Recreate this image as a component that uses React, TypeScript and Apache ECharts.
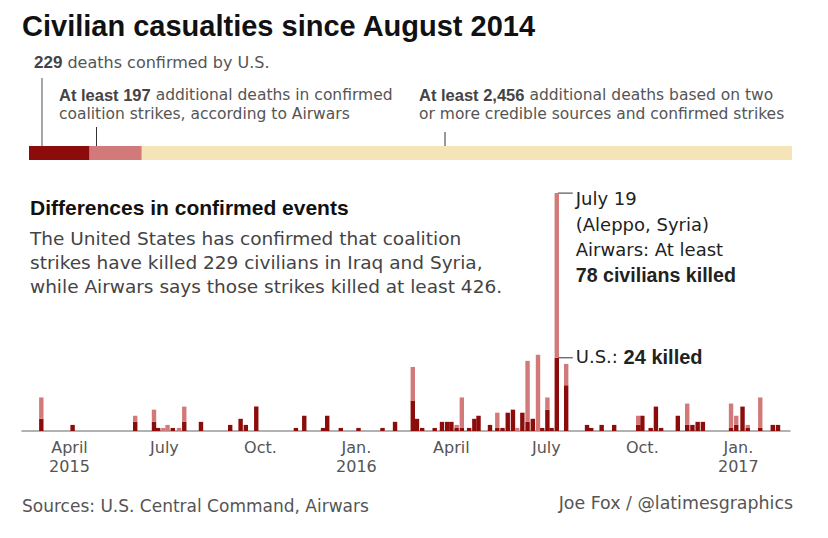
import React, { useEffect, useRef } from "react";
import * as echarts from "echarts";

// ---------- data ----------
const totalsNames = ["Confirmed by U.S.", "Additional (Airwars, confirmed strikes)", "Additional (credible sources)"];
const totalsValues = [229, 197, 2456];

const eventDates = [
  "2015-03-05", "2015-04-04", "2015-06-03", "2015-06-21", "2015-06-25", "2015-06-30", "2015-07-04", "2015-07-09",
  "2015-07-15", "2015-07-20", "2015-08-05", "2015-09-02", "2015-09-12", "2015-09-17", "2015-09-27", "2015-11-04",
  "2015-11-12", "2015-11-30", "2015-12-04", "2015-12-17", "2016-01-03", "2016-01-26", "2016-02-07", "2016-02-24",
  "2016-02-28", "2016-03-04", "2016-03-16", "2016-03-23", "2016-03-28", "2016-04-01", "2016-04-06", "2016-04-11",
  "2016-04-18", "2016-04-23", "2016-04-27", "2016-05-08", "2016-05-15", "2016-05-20", "2016-05-25", "2016-05-30",
  "2016-06-03", "2016-06-08", "2016-06-13", "2016-06-18", "2016-06-23", "2016-06-27", "2016-07-02", "2016-07-06",
  "2016-07-11", "2016-07-20", "2016-08-09", "2016-08-13", "2016-08-23", "2016-09-04", "2016-09-27", "2016-10-01",
  "2016-10-09", "2016-10-14", "2016-10-19", "2016-11-04", "2016-11-13", "2016-11-18", "2016-11-23", "2016-11-28",
  "2016-12-25", "2016-12-30", "2017-01-05", "2017-01-10", "2017-01-22", "2017-02-03", "2017-02-08",
];
const usKilled = [
  4, 2, 3, 3, 1, 0, 0, 1, 0, 3, 3, 2, 4, 2, 8, 1, 5, 1, 5, 1, 1, 1, 3, 10, 4, 1, 1, 3, 3, 3, 1, 1, 1, 4, 5, 2, 1, 1,
  6, 7, 0, 6, 3, 4, 0, 1, 7, 1, 24, 15, 2, 1, 2, 2, 2, 5, 1, 8, 1, 5, 2, 2, 3, 3, 1, 2, 8, 1, 1, 2, 2,
];
const airwarsKilled = [
  11, 2, 5, 7, 1, 1, 2, 1, 1, 8, 3, 2, 4, 2, 8, 1, 5, 1, 5, 1, 1, 1, 3, 21, 4, 1, 1, 3, 3, 3, 2, 11, 1, 4, 5, 2, 6, 1,
  6, 7, 1, 6, 23, 4, 25, 1, 11, 1, 78, 22, 2, 1, 2, 2, 5, 5, 1, 8, 1, 5, 9, 2, 3, 3, 9, 5, 8, 2, 11, 2, 2,
];

const axisStart = "2015-02-15";
const axisEnd = "2017-02-19";
const tickDates = ["2015-04-01", "2015-07-01", "2015-10-01", "2016-01-01", "2016-04-01", "2016-07-01", "2016-10-01", "2017-01-01"];
const tickLabels = ["April\n2015", "July", "Oct.", "Jan.\n2016", "April", "July", "Oct.", "Jan.\n2017"];

const peakIndex = 48; // July 19 event (Aleppo)

// ---------- style ----------
const DARK = "#8c0b0b";
const LIGHT = "#d27a7a";
const BEIGE = "#f6e4b9";
const BODY = "'DejaVu Sans', sans-serif";
const BOLD = "'Liberation Sans', Arial, sans-serif";

function buildDays(start: string, end: string): string[] {
  const out: string[] = [];
  const [sy, sm, sd] = start.split("-").map(Number);
  const [ey, em, ed] = end.split("-").map(Number);
  let t = Date.UTC(sy, sm - 1, sd);
  const te = Date.UTC(ey, em - 1, ed);
  while (t <= te) {
    out.push(new Date(t).toISOString().slice(0, 10));
    t += 86400000;
  }
  return out;
}

function txt(x: number, y: number, text: string, size: number, extra: any = {}) {
  const rich = extra.rich;
  return {
    type: "text",
    x,
    y,
    silent: true,
    style: {
      text,
      fontSize: size,
      fontFamily: extra.fontFamily || BODY,
      fontWeight: extra.fontWeight || "normal",
      fill: extra.fill || "#555",
      textAlign: extra.align || "left",
      align: extra.align || "left",
      textVerticalAlign: "middle",
      verticalAlign: "middle",
      ...(rich ? { rich } : {}),
    },
  };
}

export default function App() {
  const ref = useRef<HTMLDivElement>(null);
  useEffect(() => {
    document.body.style.margin = "0";
    const chart = echarts.init(ref.current!, null, { renderer: "svg" });
    const days = buildDays(axisStart, axisEnd);
    const usMap = new Map<string, number>();
    const exMap = new Map<string, number>();
    eventDates.forEach((d, i) => {
      usMap.set(d, usKilled[i]);
      exMap.set(d, airwarsKilled[i] - usKilled[i]);
    });
    const usData = days.map((d) => (usMap.has(d) ? usMap.get(d)! : null));
    const exData = days.map((d) => (exMap.has(d) ? exMap.get(d)! : null));
    const tickSet = new Set(tickDates);
    const total = totalsValues.reduce((a, b) => a + b, 0);

    const bodyRich = (size: number, color: string, bsize: number, bcolor: string) => ({
      r: { fontFamily: BODY, fontSize: size, fill: color, color },
      b: { fontFamily: BOLD, fontSize: bsize, fontWeight: "bold", fill: bcolor, color: bcolor },
    });

    const staticGraphics: any[] = [
      txt(22, 26, "Civilian casualties since August 2014", 29, { fontFamily: BOLD, fontWeight: "bold", fill: "#111" }),
      txt(34, 62.8, "{b|229}{r| deaths confirmed by U.S.}", 16, { rich: bodyRich(16, "#555", 17, "#444") }),
      txt(59, 95.2, "{b|At least 197}{r| additional deaths in confirmed}", 15.5, { rich: bodyRich(15.5, "#555", 16.5, "#444") }),
      txt(59, 113.6, "coalition strikes, according to Airwars", 15.5),
      txt(419, 95.2, "{b|At least 2,456}{r| additional deaths based on two}", 15.5, { rich: bodyRich(15.5, "#555", 16.5, "#444") }),
      txt(419, 113.6, "or more credible sources and confirmed strikes", 15.5),
      { type: "line", silent: true, shape: { x1: 42, y1: 78, x2: 42, y2: 146 }, style: { stroke: "#888", lineWidth: 1.5 } },
      { type: "line", silent: true, shape: { x1: 96.5, y1: 127, x2: 96.5, y2: 146 }, style: { stroke: "#333", lineWidth: 1 } },
      { type: "line", silent: true, shape: { x1: 445, y1: 132, x2: 445, y2: 146 }, style: { stroke: "#333", lineWidth: 1 } },
      txt(30, 207, "Differences in confirmed events", 21, { fontFamily: BOLD, fontWeight: "bold", fill: "#111" }),
      txt(30, 238, "The United States has confirmed that coalition", 18.5, { fill: "#444" }),
      txt(30, 262, "strikes have killed 229 civilians in Iraq and Syria,", 18.5, { fill: "#444" }),
      txt(30, 286, "while Airwars says those strikes killed at least 426.", 18.5, { fill: "#444" }),
      txt(22, 506, "Sources: U.S. Central Command, Airwars", 17),
      txt(793, 503, "Joe Fox / @latimesgraphics", 17.4, { align: "right" }),
    ];

    const option: any = {
      animation: false,
      backgroundColor: "#fff",
      grid: [
        { left: 29, top: 146, width: 763, height: 14 },
        { left: 22, top: 187, width: 768, height: 244 },
      ],
      xAxis: [
        { gridIndex: 0, type: "value", min: 0, max: total, show: false },
        {
          gridIndex: 1,
          type: "category",
          data: days,
          boundaryGap: true,
          axisLine: { lineStyle: { color: "#999", width: 1.5 } },
          axisTick: { show: false },
          splitLine: { show: false },
          axisLabel: {
            interval: (_i: number, v: string) => tickSet.has(v),
            formatter: (v: string) => {
              const k = tickDates.indexOf(v);
              return k >= 0 ? tickLabels[k] : "";
            },
            color: "#555",
            fontFamily: BODY,
            fontSize: 16,
            lineHeight: 19,
            margin: 7,
          },
        },
      ],
      yAxis: [
        { gridIndex: 0, type: "category", data: ["total"], show: false },
        { gridIndex: 1, type: "value", min: 0, max: 80, show: false },
      ],
      series: [
        ...totalsValues.map((v, i) => ({
          name: totalsNames[i],
          type: "bar",
          xAxisIndex: 0,
          yAxisIndex: 0,
          stack: "totals",
          barWidth: 14,
          data: [v],
          itemStyle: { color: [DARK, LIGHT, BEIGE][i] },
          silent: true,
        })),
        {
          name: "U.S.",
          type: "bar",
          xAxisIndex: 1,
          yAxisIndex: 1,
          stack: "events",
          barWidth: 4.4,
          data: usData,
          itemStyle: { color: DARK },
          silent: true,
        },
        {
          name: "Airwars additional",
          type: "bar",
          xAxisIndex: 1,
          yAxisIndex: 1,
          stack: "events",
          barWidth: 4.4,
          data: exData,
          itemStyle: { color: LIGHT },
          silent: true,
        },
      ],
      graphic: staticGraphics,
    };
    chart.setOption(option);

    // annotation anchored to the peak bar
    try {
      const d = eventDates[peakIndex];
      const top = chart.convertToPixel({ xAxisIndex: 1, yAxisIndex: 1 } as any, [d, airwarsKilled[peakIndex]]) as any;
      const us = chart.convertToPixel({ xAxisIndex: 1, yAxisIndex: 1 } as any, [d, usKilled[peakIndex]]) as any;
      const x0 = top[0] + 1;
      const x1 = x0 + 15;
      const tx = x1 + 3;
      const ann: any[] = [
        { type: "line", silent: true, shape: { x1: x0, y1: top[1], x2: x1, y2: top[1] }, style: { stroke: "#333", lineWidth: 1 } },
        { type: "line", silent: true, shape: { x1: x0, y1: us[1], x2: x1, y2: us[1] }, style: { stroke: "#333", lineWidth: 1 } },
        txt(tx, top[1] + 5.5, "July 19", 18, { fill: "#222" }),
        txt(tx, top[1] + 31, "(Aleppo, Syria)", 18, { fill: "#222" }),
        txt(tx, top[1] + 56.5, "Airwars: At least", 18, { fill: "#222" }),
        txt(tx, top[1] + 82, "78 civilians killed", 19.6, { fontFamily: BOLD, fontWeight: "bold", fill: "#222" }),
        txt(tx, us[1] - 1, "{r|U.S.: }{b|24 killed}", 18, { rich: bodyRich(18, "#222", 20, "#222") }),
      ];
      chart.setOption({ graphic: [...staticGraphics, ...ann] });
    } catch (e) {
      // ignore
    }

    return () => chart.dispose();
  }, []);
  return <div ref={ref} style={{ position: "absolute", left: 0, top: 0, width: 828, height: 538, background: "#fff" }} />;
}
